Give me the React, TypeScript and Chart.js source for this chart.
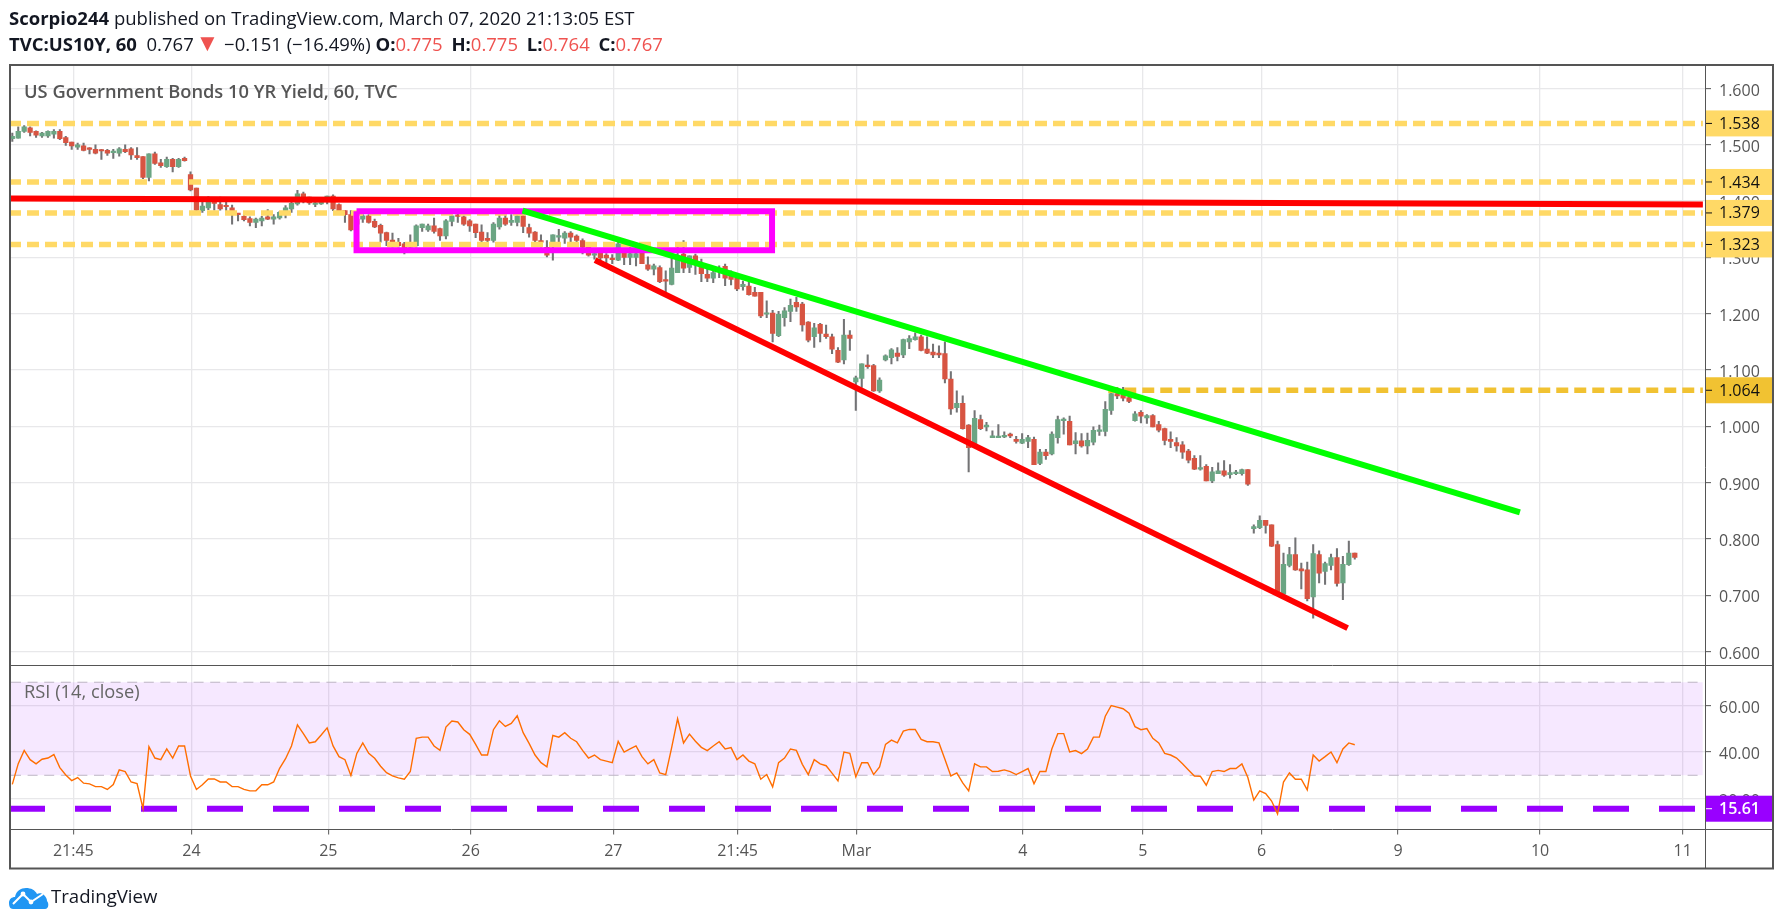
// App.tsx - US10Y 60 min candles with RSI pane
import { useEffect, useRef } from 'react';
import { Chart, registerables } from 'chart.js';

Chart.register(...registerables);

const opens = [
  1.511, 1.512, 1.524, 1.530, 1.524, 1.516, 1.516, 1.519, 1.524, 1.513,
  1.505, 1.496, 1.498, 1.493, 1.492, 1.490, 1.490, 1.486, 1.485, 1.492,
  1.493, 1.481, 1.479, 1.442, 1.484, 1.468, 1.461, 1.474, 1.461, 1.476,
  1.447, 1.423, 1.383, 1.388, 1.397, 1.394, 1.391, 1.388, 1.377, 1.373,
  1.369, 1.362, 1.365, 1.372, 1.368, 1.370, 1.376, 1.386, 1.395, 1.413,
  1.407, 1.394, 1.395, 1.399, 1.409, 1.394, 1.383, 1.376, 1.368, 1.368,
  1.374, 1.364, 1.357, 1.344, 1.331, 1.327, 1.324, 1.318, 1.321, 1.353,
  1.349, 1.356, 1.351, 1.338, 1.364, 1.375, 1.372, 1.365, 1.359, 1.345,
  1.334, 1.330, 1.354, 1.370, 1.362, 1.362, 1.374, 1.353, 1.345, 1.330,
  1.318, 1.327, 1.336, 1.334, 1.343, 1.338, 1.330, 1.318, 1.304, 1.309,
  1.304, 1.298, 1.295, 1.309, 1.300, 1.300, 1.308, 1.287, 1.279, 1.282,
  1.260, 1.252, 1.273, 1.306, 1.282, 1.303, 1.283, 1.270, 1.263, 1.275,
  1.284, 1.269, 1.263, 1.248, 1.249, 1.238, 1.238, 1.199, 1.201, 1.161,
  1.193, 1.204, 1.220, 1.217, 1.185, 1.159, 1.181, 1.164, 1.159, 1.135,
  1.118, 1.162, 1.079, 1.085, 1.108, 1.108, 1.063, 1.118, 1.122, 1.130,
  1.127, 1.150, 1.154, 1.159, 1.137, 1.132, 1.130, 1.129, 1.084, 1.033,
  1.041, 1.002, 0.968, 1.012, 0.999, 0.980, 0.980, 0.981, 0.986, 0.977,
  0.970, 0.973, 0.977, 0.934, 0.954, 0.951, 0.980, 1.010, 1.009, 0.969,
  0.974, 0.965, 0.972, 0.991, 0.991, 1.028, 1.058, 1.056, 1.051, 1.010,
  1.025, 1.015, 1.019, 1.003, 0.996, 0.977, 0.971, 0.967, 0.956, 0.943,
  0.924, 0.929, 0.903, 0.916, 0.921, 0.914, 0.916, 0.916, 0.923, 0.818,
  0.820, 0.833, 0.825, 0.790, 0.702, 0.753, 0.772, 0.747, 0.745, 0.697,
  0.772, 0.742, 0.753, 0.767, 0.722, 0.754, 0.775,
];
const highs = [
  1.521, 1.532, 1.534, 1.532, 1.525, 1.522, 1.525, 1.527, 1.527, 1.515,
  1.505, 1.503, 1.503, 1.495, 1.500, 1.492, 1.492, 1.492, 1.495, 1.500,
  1.495, 1.495, 1.479, 1.484, 1.487, 1.474, 1.478, 1.476, 1.476, 1.478,
  1.452, 1.423, 1.398, 1.408, 1.402, 1.407, 1.404, 1.393, 1.378, 1.377,
  1.372, 1.370, 1.373, 1.385, 1.376, 1.382, 1.392, 1.402, 1.419, 1.416,
  1.407, 1.399, 1.405, 1.409, 1.411, 1.395, 1.383, 1.383, 1.371, 1.376,
  1.376, 1.368, 1.359, 1.345, 1.343, 1.334, 1.327, 1.340, 1.358, 1.359,
  1.359, 1.370, 1.352, 1.367, 1.376, 1.377, 1.374, 1.367, 1.359, 1.358,
  1.344, 1.362, 1.376, 1.375, 1.376, 1.376, 1.377, 1.359, 1.346, 1.340,
  1.330, 1.340, 1.350, 1.346, 1.346, 1.340, 1.333, 1.321, 1.315, 1.315,
  1.307, 1.305, 1.327, 1.315, 1.324, 1.321, 1.315, 1.301, 1.288, 1.285,
  1.276, 1.301, 1.324, 1.330, 1.303, 1.306, 1.297, 1.282, 1.281, 1.285,
  1.288, 1.276, 1.270, 1.258, 1.258, 1.247, 1.238, 1.223, 1.206, 1.204,
  1.211, 1.226, 1.229, 1.220, 1.186, 1.183, 1.183, 1.180, 1.164, 1.140,
  1.190, 1.170, 1.089, 1.111, 1.127, 1.110, 1.086, 1.127, 1.138, 1.140,
  1.155, 1.161, 1.166, 1.162, 1.159, 1.146, 1.143, 1.150, 1.097, 1.063,
  1.054, 1.003, 1.028, 1.020, 1.007, 0.992, 1.003, 0.990, 0.988, 0.982,
  0.987, 0.984, 0.981, 0.959, 0.959, 0.990, 1.018, 1.015, 1.018, 0.989,
  0.987, 0.988, 0.999, 1.002, 1.044, 1.069, 1.069, 1.069, 1.056, 1.026,
  1.028, 1.021, 1.021, 1.009, 0.997, 0.990, 0.980, 0.973, 0.959, 0.948,
  0.948, 0.932, 0.927, 0.935, 0.939, 0.932, 0.922, 0.924, 0.923, 0.825,
  0.841, 0.833, 0.825, 0.796, 0.775, 0.785, 0.802, 0.757, 0.759, 0.790,
  0.779, 0.759, 0.773, 0.783, 0.769, 0.796, 0.775,
];
const lows = [
  1.506, 1.512, 1.522, 1.516, 1.513, 1.513, 1.513, 1.512, 1.509, 1.499,
  1.492, 1.492, 1.489, 1.484, 1.484, 1.474, 1.481, 1.476, 1.480, 1.486,
  1.474, 1.474, 1.440, 1.436, 1.465, 1.460, 1.460, 1.452, 1.460, 1.471,
  1.418, 1.383, 1.380, 1.385, 1.384, 1.384, 1.383, 1.359, 1.365, 1.365,
  1.356, 1.353, 1.356, 1.367, 1.359, 1.368, 1.370, 1.380, 1.393, 1.397,
  1.394, 1.390, 1.394, 1.395, 1.383, 1.377, 1.362, 1.347, 1.349, 1.362,
  1.361, 1.353, 1.327, 1.321, 1.318, 1.318, 1.306, 1.315, 1.318, 1.346,
  1.346, 1.343, 1.330, 1.333, 1.356, 1.362, 1.357, 1.346, 1.335, 1.328,
  1.328, 1.327, 1.350, 1.357, 1.357, 1.356, 1.344, 1.336, 1.327, 1.318,
  1.301, 1.295, 1.325, 1.325, 1.324, 1.327, 1.306, 1.302, 1.297, 1.296,
  1.290, 1.289, 1.294, 1.287, 1.287, 1.285, 1.289, 1.277, 1.269, 1.255,
  1.238, 1.251, 1.273, 1.273, 1.273, 1.270, 1.257, 1.257, 1.255, 1.264,
  1.250, 1.251, 1.241, 1.242, 1.233, 1.231, 1.193, 1.193, 1.150, 1.159,
  1.178, 1.186, 1.204, 1.169, 1.150, 1.140, 1.150, 1.156, 1.129, 1.113,
  1.111, 1.135, 1.028, 1.069, 1.103, 1.062, 1.060, 1.116, 1.111, 1.116,
  1.122, 1.138, 1.153, 1.134, 1.129, 1.122, 1.122, 1.077, 1.021, 1.025,
  0.995, 0.919, 0.962, 0.994, 0.992, 0.980, 0.980, 0.980, 0.980, 0.970,
  0.969, 0.962, 0.932, 0.932, 0.941, 0.949, 0.970, 0.986, 0.967, 0.951,
  0.963, 0.951, 0.967, 0.984, 0.983, 1.021, 1.049, 1.045, 1.042, 1.009,
  1.006, 1.005, 0.999, 0.990, 0.967, 0.962, 0.956, 0.943, 0.935, 0.923,
  0.922, 0.903, 0.900, 0.916, 0.911, 0.908, 0.914, 0.913, 0.895, 0.810,
  0.818, 0.810, 0.786, 0.704, 0.702, 0.750, 0.744, 0.711, 0.690, 0.659,
  0.722, 0.719, 0.745, 0.716, 0.692, 0.753, 0.764,
];
const closes = [
  1.515, 1.524, 1.532, 1.522, 1.517, 1.521, 1.524, 1.524, 1.511, 1.504,
  1.498, 1.500, 1.490, 1.492, 1.485, 1.489, 1.485, 1.487, 1.493, 1.488,
  1.482, 1.477, 1.442, 1.484, 1.467, 1.463, 1.474, 1.461, 1.474, 1.472,
  1.420, 1.384, 1.391, 1.399, 1.396, 1.386, 1.390, 1.377, 1.376, 1.367,
  1.362, 1.368, 1.370, 1.368, 1.372, 1.380, 1.388, 1.396, 1.413, 1.403,
  1.397, 1.397, 1.402, 1.409, 1.386, 1.383, 1.376, 1.349, 1.359, 1.374,
  1.362, 1.354, 1.343, 1.330, 1.328, 1.321, 1.309, 1.327, 1.356, 1.359,
  1.356, 1.346, 1.338, 1.365, 1.374, 1.373, 1.359, 1.356, 1.344, 1.330,
  1.330, 1.359, 1.370, 1.359, 1.366, 1.374, 1.355, 1.343, 1.330, 1.327,
  1.304, 1.340, 1.338, 1.343, 1.336, 1.330, 1.318, 1.304, 1.307, 1.299,
  1.299, 1.296, 1.324, 1.300, 1.307, 1.307, 1.289, 1.279, 1.285, 1.257,
  1.258, 1.281, 1.303, 1.281, 1.303, 1.291, 1.271, 1.263, 1.273, 1.276,
  1.263, 1.261, 1.244, 1.252, 1.234, 1.231, 1.196, 1.201, 1.165, 1.199,
  1.205, 1.215, 1.212, 1.180, 1.153, 1.175, 1.165, 1.159, 1.137, 1.114,
  1.162, 1.156, 1.086, 1.111, 1.106, 1.063, 1.082, 1.125, 1.136, 1.124,
  1.154, 1.156, 1.159, 1.135, 1.130, 1.127, 1.127, 1.084, 1.031, 1.041,
  0.996, 0.962, 1.014, 0.996, 1.002, 0.983, 0.982, 0.984, 0.983, 0.973,
  0.977, 0.980, 0.932, 0.954, 0.948, 0.986, 1.012, 1.012, 0.967, 0.974,
  0.965, 0.975, 0.993, 0.993, 1.030, 1.058, 1.054, 1.050, 1.044, 1.022,
  1.018, 1.019, 0.999, 0.993, 0.975, 0.973, 0.965, 0.954, 0.940, 0.924,
  0.926, 0.903, 0.919, 0.921, 0.913, 0.918, 0.918, 0.923, 0.897, 0.822,
  0.833, 0.824, 0.787, 0.704, 0.755, 0.772, 0.745, 0.743, 0.694, 0.774,
  0.739, 0.756, 0.767, 0.721, 0.755, 0.775, 0.767,
];
const rsi = [
  26.1, 35.0, 40.7, 36.7, 34.9, 36.9, 37.4, 38.9, 33.3, 30.1,
  27.7, 29.0, 26.6, 26.3, 25.1, 25.1, 23.9, 26.0, 32.3, 31.6,
  27.1, 26.4, 15.7, 42.3, 37.4, 36.7, 41.3, 37.4, 42.6, 42.6,
  29.7, 23.9, 25.9, 28.4, 28.4, 27.1, 27.1, 25.1, 25.1, 23.9,
  23.3, 23.3, 25.9, 25.9, 27.1, 33.0, 37.1, 42.6, 51.7, 47.9,
  43.9, 44.4, 47.3, 50.4, 42.6, 38.0, 36.7, 29.9, 39.4, 43.9,
  39.4, 37.3, 33.9, 31.1, 29.7, 28.9, 28.3, 31.6, 45.9, 46.4,
  46.4, 42.6, 40.7, 50.7, 53.3, 52.9, 49.6, 47.6, 43.3, 38.7,
  38.7, 49.6, 53.4, 51.0, 52.3, 55.6, 48.3, 43.7, 38.7, 35.4,
  33.6, 47.1, 46.4, 48.3, 45.9, 44.4, 40.7, 37.4, 38.7, 36.7,
  36.1, 35.4, 44.6, 40.0, 41.3, 42.6, 38.0, 34.9, 36.7, 31.0,
  30.3, 41.9, 54.3, 43.9, 47.7, 44.6, 42.0, 40.6, 42.6, 44.4,
  41.3, 41.9, 36.7, 38.7, 36.1, 34.9, 28.3, 30.3, 25.0, 35.4,
  37.4, 41.3, 40.7, 34.7, 30.3, 36.7, 34.9, 34.1, 30.9, 27.6,
  40.0, 39.4, 29.3, 35.4, 35.4, 30.3, 33.6, 43.3, 45.1, 43.9,
  49.0, 49.7, 49.7, 45.4, 44.4, 44.4, 43.9, 36.9, 29.7, 31.0,
  26.7, 23.3, 34.9, 33.6, 33.6, 31.6, 31.7, 32.3, 31.6, 30.3,
  31.6, 32.9, 26.3, 31.6, 31.6, 41.3, 47.9, 47.9, 40.0, 40.6,
  39.3, 41.3, 46.4, 46.4, 55.4, 60.0, 59.3, 58.6, 56.7, 50.9,
  49.6, 50.1, 45.9, 43.9, 39.4, 38.7, 37.4, 34.9, 32.3, 29.7,
  29.6, 25.7, 31.6, 32.1, 31.6, 32.9, 32.9, 34.9, 29.0, 19.3,
  23.3, 22.1, 18.9, 13.4, 27.1, 31.0, 28.3, 28.3, 23.7, 38.7,
  36.1, 38.0, 40.0, 35.4, 41.3, 43.9, 43.1,
];

// x axis is in candle numbers, the future part has no candles
const xMin = -0.22;
const xMax = 284.96;
const xTickValues = [10.27, 30.17, 53.2, 77.17, 101.18, 122.1, 142.1, 170.1, 190.3, 210.3, 233.3, 257.2, 281.2];
const xTickLabels = ['21:45', '24', '25', '26', '27', '21:45', 'Mar', '4', '5', '6', '9', '10', '11'];
const priceTicks = [0.6, 0.7, 0.8, 0.9, 1.0, 1.1, 1.2, 1.3, 1.4, 1.5, 1.6];
const rsiTicks = [20, 40, 60];

const paleLevels = [1.538, 1.434, 1.379, 1.323];
const strongLevel = 1.064;
const strongLevelFrom = 184.5;
const levelEnd = 284.6;
const rsiUpper = 70;
const rsiLower = 30;
const rsiLevel = 15.61;

const flatRedX = [-0.22, 284.6];
const flatRedY = [1.4048, 1.3941];
const boxX = [57.95, 127.9, 127.9, 57.95, 57.95];
const boxY = [1.382, 1.382, 1.3126, 1.3126, 1.382];
const fallingRedX = [98.1, 224.8];
const fallingRedY = [1.2952, 0.6415];
const greenX = [85.9, 253.8];
const greenY = [1.3829, 0.8473];

const UP = '#6ba583';
const DOWN = '#d75442';
const WICK = '#737375';
const PALE = '#ffd966';
const STRONG = '#f1c232';
const PURPLE = '#9900ff';
const AXIS = '#555555';
const GRID = '#e8e8ea';
const FONT = '"Open Sans"';

const pts = (xs: number[], ys: number[]) => xs.map((x, i) => ({ x, y: ys[i] }));

const overlay = (xs: number[], ys: number[], color: string, order: number, extra: object = {}) => ({
  type: 'line' as const,
  data: pts(xs, ys),
  borderColor: color,
  borderWidth: 6,
  pointRadius: 0,
  borderCapStyle: 'butt',
  borderJoinStyle: 'miter',
  yAxisID: 'price',
  order,
  ...extra,
});

const dashed = (y: number, from: number, color: string, order: number) =>
  overlay([from, levelEnd], [y, y], color, order, { borderWidth: 5.5, borderDash: [12, 6], borderDashOffset: 2 });

// axis frame and the coloured price tags on the right
const framePlugin = {
  id: 'frame',
  afterDraw(chart: Chart) {
    const { ctx, chartArea } = chart;
    const price = chart.scales.price;
    const rsiScale = chart.scales.rsi;
    const right = 1773;
    const bottom = 868.5;
    ctx.save();

    const tag = (y: number, text: string, bg: string, fg: string, weight: string) => {
      ctx.fillStyle = bg;
      ctx.fillRect(chartArea.right, y - 13, right - chartArea.right, 26);
      ctx.fillStyle = fg;
      ctx.fillRect(chartArea.right + 1, y - 0.5, 6, 1);
      ctx.font = `${weight} 16px ${FONT}`;
      ctx.textAlign = 'left';
      ctx.textBaseline = 'middle';
      ctx.fillText(text, chartArea.right + 14, y + 1);
    };
    paleLevels.forEach((v) => tag(price.getPixelForValue(v), v.toFixed(3), PALE, '#111', 'normal'));
    tag(price.getPixelForValue(strongLevel), strongLevel.toFixed(3), STRONG, '#111', 'normal');
    tag(rsiScale.getPixelForValue(rsiLevel), rsiLevel.toFixed(2), PURPLE, '#fff', '600');

    ctx.strokeStyle = AXIS;
    ctx.lineWidth = 1;
    ctx.beginPath();
    ctx.moveTo(chartArea.right + 0.5, chartArea.top);
    ctx.lineTo(chartArea.right + 0.5, bottom);
    ctx.moveTo(chartArea.left, price.bottom);
    ctx.lineTo(right, price.bottom);
    ctx.moveTo(chartArea.left, chartArea.bottom);
    ctx.lineTo(right, chartArea.bottom);
    ctx.stroke();
    ctx.lineWidth = 2;
    ctx.strokeRect(10, 65, right - 10, bottom - 65);
    ctx.restore();
  },
};

function Logo() {
  return (
    <svg width="40" height="24" viewBox="0 0 40 24" style={{ position: 'absolute', left: 9, top: 885 }}>
      <path
        d="M4 24 C1 24 0 21 0 18 C0 14 3 12 6 12 C7 6 12 3 17 3 C22 3 26 5 28 9 C30 8 33 8 35 10 C37 12 38 14 38 16 C40 18 40 24 36 24 Z"
        fill="#2196f3"
      />
      <path d="M4 19 L14 9 L22 17 L34 9" fill="none" stroke="#fff" strokeWidth="2" />
      <circle cx="14" cy="9" r="2.4" fill="#fff" />
      <circle cx="22" cy="17" r="2.4" fill="#fff" />
    </svg>
  );
}

const absText = (left: number, top: number, size: number): React.CSSProperties => ({
  position: 'absolute',
  left,
  top,
  fontSize: size,
  lineHeight: '22px',
  whiteSpace: 'nowrap',
  fontFamily: FONT,
});

export default function App() {
  const canvasRef = useRef<HTMLCanvasElement | null>(null);

  useEffect(() => {
    if (!canvasRef.current) return;
    const candleColors = opens.map((o, i) => (closes[i] >= o ? UP : DOWN));
    const chart = new Chart(canvasRef.current, {
      type: 'bar',
      data: {
        datasets: [
          {
            type: 'bar',
            data: lows.map((l, i) => ({ x: i, y: [l, highs[i]] })),
            backgroundColor: WICK,
            barThickness: 1.4,
            grouped: false,
            yAxisID: 'price',
            order: 20,
          },
          {
            type: 'bar',
            data: opens.map((o, i) => ({ x: i, y: [o, closes[i]] })),
            backgroundColor: candleColors,
            barThickness: 4.6,
            minBarLength: 1.5,
            grouped: false,
            yAxisID: 'price',
            order: 19,
          },
          ...paleLevels.map((v) => dashed(v, xMin, PALE, 10)),
          dashed(strongLevel, strongLevelFrom, STRONG, 10),
          overlay(flatRedX, flatRedY, '#ff0000', 9),
          overlay(boxX, boxY, '#ff00ff', 8),
          overlay(fallingRedX, fallingRedY, '#ff0000', 7),
          overlay(greenX, greenY, '#00ff00', 6),
          {
            type: 'line',
            data: pts([xMin, levelEnd], [rsiUpper, rsiUpper]),
            borderColor: '#bdb4c4',
            borderWidth: 1,
            borderDash: [10, 6.6],
            pointRadius: 0,
            backgroundColor: 'rgba(152,0,255,0.09)',
            fill: { value: rsiLower },
            yAxisID: 'rsi',
            order: 5,
          },
          {
            type: 'line',
            data: pts([xMin, levelEnd], [rsiLower, rsiLower]),
            borderColor: '#bdb4c4',
            borderWidth: 1,
            borderDash: [10, 6.6],
            pointRadius: 0,
            yAxisID: 'rsi',
            order: 4,
          },
          {
            type: 'line',
            data: pts([xMin, levelEnd], [rsiLevel, rsiLevel]),
            borderColor: PURPLE,
            borderWidth: 6,
            borderDash: [36, 30],
            borderDashOffset: 2,
            pointRadius: 0,
            yAxisID: 'rsi',
            order: 3,
          },
          {
            type: 'line',
            data: rsi.map((v, i) => ({ x: i, y: v })),
            borderColor: '#ff6d00',
            borderWidth: 1.4,
            pointRadius: 0,
            tension: 0,
            yAxisID: 'rsi',
            order: 2,
          },
        ] as any,
      },
      options: {
        responsive: false,
        animation: false,
        events: [],
        layout: { padding: { left: 11, top: 66, right: 10, bottom: 54.5 } },
        plugins: { legend: { display: false }, tooltip: { enabled: false } },
        scales: {
          x: {
            type: 'linear',
            min: xMin,
            max: xMax,
            offset: false,
            afterBuildTicks: (s: any) => {
              s.ticks = xTickValues.map((value) => ({ value }));
            },
            afterFit: (s: any) => {
              s.height = 39;
            },
            border: { display: false },
            grid: { color: GRID, lineWidth: 1.3, offset: false, tickColor: AXIS, tickWidth: 1, tickLength: 5 },
            ticks: {
              autoSkip: false,
              maxRotation: 0,
              padding: 7,
              color: AXIS,
              font: { family: FONT, size: 16 },
              callback: (_v: any, i: number) => xTickLabels[i],
            },
          },
          price: {
            type: 'linear',
            position: 'right',
            stack: 'panes',
            stackWeight: 599.5,
            min: 0.5751,
            max: 1.64,
            afterBuildTicks: (s: any) => {
              s.ticks = priceTicks.map((value) => ({ value }));
            },
            afterFit: (s: any) => {
              s.width = 68;
            },
            border: { display: false },
            grid: { color: GRID, lineWidth: 1.3, tickColor: AXIS, tickWidth: 1, tickLength: 6 },
            ticks: {
              padding: 8,
              labelOffset: 2.5,
              color: AXIS,
              font: { family: FONT, size: 16 },
              callback: (v: any) => Number(v).toFixed(3),
            },
          },
          rsi: {
            type: 'linear',
            position: 'right',
            stack: 'panes',
            stackWeight: 164,
            min: 6.67,
            max: 77.2,
            afterBuildTicks: (s: any) => {
              s.ticks = rsiTicks.map((value) => ({ value }));
            },
            afterFit: (s: any) => {
              s.width = 68;
            },
            border: { display: false },
            grid: { color: GRID, lineWidth: 1.3, tickColor: AXIS, tickWidth: 1, tickLength: 6 },
            ticks: {
              padding: 8,
              labelOffset: 2.5,
              color: AXIS,
              font: { family: FONT, size: 16 },
              callback: (v: any) => Number(v).toFixed(2),
            },
          },
        },
      } as any,
      plugins: [framePlugin],
    });
    return () => chart.destroy();
  }, []);

  const red = { color: '#ef5350' };
  const gap = { marginLeft: 4 };
  return (
    <div style={{ position: 'absolute', left: 0, top: 0, width: 1783, height: 923, background: '#fff', color: '#131722', overflow: 'hidden' }}>
      <canvas ref={canvasRef} width={1783} height={923} style={{ display: 'block' }} />
      <div style={absText(9, 7, 18.5)}>
        <b>Scorpio244</b> published on TradingView.com, March 07, 2020 21:13:05 EST
      </div>
      <div style={absText(9, 33, 18.5)}>
        <b>TVC:US10Y, 60</b>&nbsp; 0.767 <span style={{ ...red, fontSize: 24, lineHeight: 0, marginLeft: -3 }}>▼</span> −0.151 (−16.49%) <b>O:</b>
        <span style={red}>0.775</span> <b style={gap}>H:</b>
        <span style={red}>0.775</span> <b style={gap}>L:</b>
        <span style={red}>0.764</span> <b style={gap}>C:</b>
        <span style={red}>0.767</span>
      </div>
      <div style={{ ...absText(24, 80, 18.3), color: '#555', fontWeight: 600 }}>US Government Bonds 10 YR Yield, 60, TVC</div>
      <div style={{ ...absText(24, 680, 18.3), color: '#666' }}>RSI (14, close)</div>
      <Logo />
      <div style={{ ...absText(51, 885, 18.6) }}>TradingView</div>
    </div>
  );
}
